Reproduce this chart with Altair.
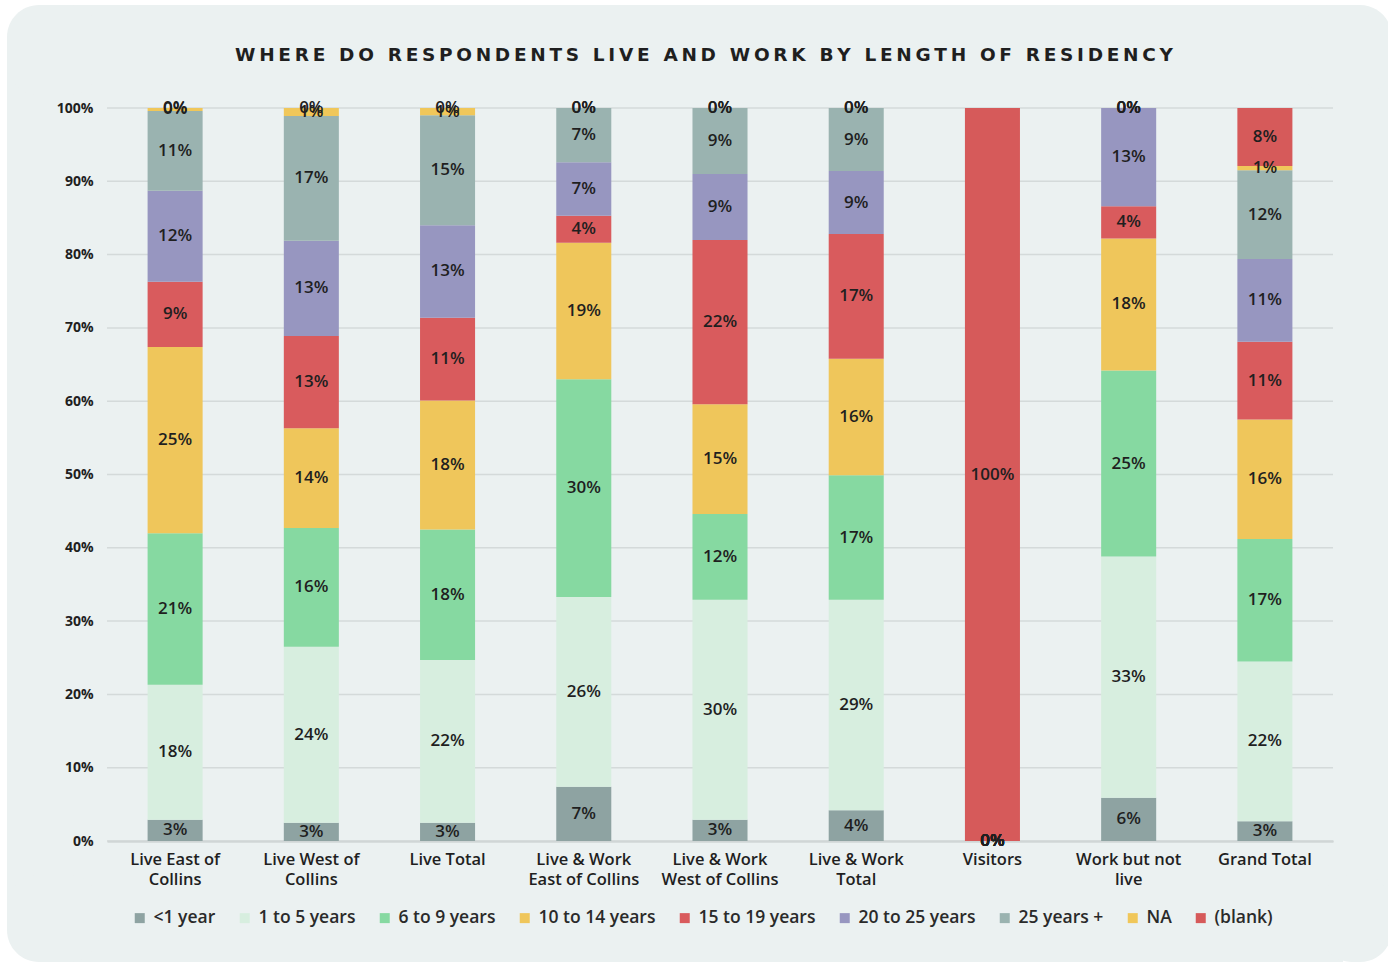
import altair as alt
import pandas as pd

# ---- data -----------------------------------------------------------------
CATEGORIES = [
    "Live East of Collins", "Live West of Collins", "Live Total",
    "Live & Work East of Collins", "Live & Work West of Collins",
    "Live & Work Total", "Visitors", "Work but not live", "Grand Total",
]
CATEGORY_LINES = [
    ["Live East of", "Collins"], ["Live West of", "Collins"], ["Live Total"],
    ["Live & Work", "East of Collins"], ["Live & Work", "West of Collins"],
    ["Live & Work", "Total"], ["Visitors"], ["Work but not", "live"], ["Grand Total"],
]

SERIES = ["<1 year", "1 to 5 years", "6 to 9 years", "10 to 14 years",
          "15 to 19 years", "20 to 25 years", "25 years +", "NA", "(blank)"]
COLORS = ["#8ea3a2", "#d7eedf", "#86d9a1", "#efc65b",
          "#d95b5d", "#9796c0", "#9ab3b0", "#f0c75a", "#d65a5a"]

# share of respondents (%) per category, one list per residency band
LESS_1 = [2.9, 2.5, 2.5, 7.4, 2.9, 4.2, 0.0, 5.9, 2.7]
Y1_5 = [18.4, 24.0, 22.2, 25.9, 30.0, 28.7, 0.0, 32.9, 21.8]
Y6_9 = [20.7, 16.2, 17.8, 29.7, 11.7, 17.0, 0.0, 25.4, 16.7]
Y10_14 = [25.4, 13.6, 17.6, 18.6, 15.0, 15.9, 0.0, 18.0, 16.3]
Y15_19 = [8.9, 12.6, 11.3, 3.7, 22.4, 17.0, 0.0, 4.4, 10.6]
Y20_25 = [12.4, 13.0, 12.6, 7.3, 9.0, 8.6, 0.0, 13.4, 11.3]
Y25_PLUS = [10.9, 17.0, 15.0, 7.4, 9.0, 8.6, 0.0, 0.0, 12.1]
NA = [0.4, 1.1, 1.0, 0.0, 0.0, 0.0, 0.0, 0.0, 0.6]
BLANK = [0.0, 0.0, 0.0, 0.0, 0.0, 0.0, 100.0, 0.0, 7.9]

SERIES_VALUES = [LESS_1, Y1_5, Y6_9, Y10_14, Y15_19, Y20_25, Y25_PLUS, NA, BLANK]
Y_TICKS = [0, 10, 20, 30, 40, 50, 60, 70, 80, 90, 100]

TITLE = "WHERE DO RESPONDENTS LIVE AND WORK BY LENGTH OF RESIDENCY"

rows = []
for i, (name, vals) in enumerate(zip(SERIES, SERIES_VALUES)):
    for cat, v in zip(CATEGORIES, vals):
        rows.append({"category": cat, "series": name, "order": i, "value": v})
df = pd.DataFrame(rows)

# ---- styling --------------------------------------------------------------
FONT = "Open Sans"
TEXT = "#1f1f1f"
PANEL = "#ebf1f1"
W, H = 1226, 733
LEFT, TOP = 107, 108          # plot-area offset inside the canvas

label_expr = " : ".join(
    f"datum.label == '{c}' ? [{', '.join(repr(l) for l in lines)}]"
    for c, lines in zip(CATEGORIES, CATEGORY_LINES)
) + " : datum.label"

x_scale = alt.Scale(paddingInner=0.596, paddingOuter=0.298)
y_scale = alt.Scale(domain=[0, 100], nice=False, zero=True)

# one axis definition per channel, shared by every layer that uses the channel
X_AXIS = alt.Axis(labelAngle=0, labelExpr=label_expr, labelFont=FONT,
                  labelFontSize=16.5, labelFontWeight=600, labelColor=TEXT,
                  labelLineHeight=20, labelPadding=10, ticks=False, grid=False,
                  domain=True, domainColor="#c3c9c9", domainWidth=2)
Y_AXIS = alt.Axis(values=Y_TICKS, labelExpr="datum.value + '%'",
                  labelFont=FONT, labelFontSize=14, labelFontWeight="bold",
                  labelColor=TEXT, labelPadding=14, ticks=False,
                  domain=False, grid=False)

ONE = pd.DataFrame({"k": [0]})


def block(x0, y0, x1, y1, color, radius=0):
    """Decorative rectangle given in canvas pixels (used for the card edges)."""
    return alt.Chart(ONE).mark_rect(color=color, cornerRadius=radius).encode(
        x=alt.value(x0 - LEFT), x2=alt.value(x1 - LEFT),
        y=alt.value(y0 - TOP), y2=alt.value(y1 - TOP),
    )


# white margin around the card and its rounded corners
card_edges = [
    block(0, 0, 1388, 5, "white"), block(0, 0, 7, 966, "white"),
    block(0, 962, 1388, 966, "white"),
    block(0, 0, 45, 45, "white"), block(0, 921, 45, 966, "white"),
    block(1343, 0, 1388, 45, "white"), block(1343, 921, 1388, 966, "white"),
    block(7, 5, 100, 95, PANEL, 32), block(7, 875, 100, 962, PANEL, 32),
    block(1300, 5, 1392, 95, PANEL, 32), block(1320, 875, 1392, 962, PANEL, 32),
]

# horizontal gridlines
grid = alt.Chart(pd.DataFrame({"tick": Y_TICKS})).mark_rule(
    color="#d4dada", strokeWidth=1.5
).encode(y=alt.Y("tick:Q", scale=y_scale, title=None, axis=Y_AXIS))

base = alt.Chart(df).transform_stack(
    stack="value", groupby=["category"], as_=["v0", "v1"],
    sort=[alt.SortField("order", order="ascending")],
).transform_calculate(
    mid="(datum.v0 + datum.v1) / 2",
    lab="format(datum.value, '.0f') + '%'",
)

bars = base.mark_bar().encode(
    x=alt.X("category:N", sort=CATEGORIES, title=None, scale=x_scale, axis=X_AXIS),
    y=alt.Y("v0:Q", scale=y_scale, title=None, axis=Y_AXIS),
    y2="v1:Q",
    color=alt.Color(
        "series:N", scale=alt.Scale(domain=SERIES, range=COLORS),
        legend=alt.Legend(
            title=None, orient="none", legendX=24, legendY=801,
            direction="horizontal", columns=9, columnPadding=20,
            symbolType="square", symbolSize=100, symbolStrokeWidth=0,
            labelFont=FONT, labelFontSize=17.5, labelFontWeight=600,
            labelColor="#2a2a2a", labelOffset=5,
        ),
    ),
    order=alt.Order("order:Q", sort="ascending"),
)

labels = base.mark_text(
    font=FONT, fontSize=17, fontWeight=600, color=TEXT, baseline="middle"
).encode(
    x=alt.X("category:N", sort=CATEGORIES, title=None, scale=x_scale, axis=X_AXIS),
    y=alt.Y("mid:Q", scale=y_scale, title=None, axis=Y_AXIS),
    text="lab:N",
)

title = alt.Chart(pd.DataFrame({"t": ["\u2009".join(TITLE)]})).mark_text(
    font="DejaVu Sans", fontSize=18.5, fontWeight="bold", color=TEXT,
    baseline="middle", align="center",
).encode(text="t:N", x=alt.value(597), y=alt.value(-53))

chart = alt.layer(*card_edges, grid, bars, labels, title).properties(
    width=W, height=H,
    autosize=alt.AutoSizeParams(type="none"),
    padding={"left": LEFT, "top": TOP, "right": 55, "bottom": 125},
    background=PANEL,
).configure_view(stroke=None)

chart.save("out.html", embed_options={"renderer": "svg", "actions": False})
